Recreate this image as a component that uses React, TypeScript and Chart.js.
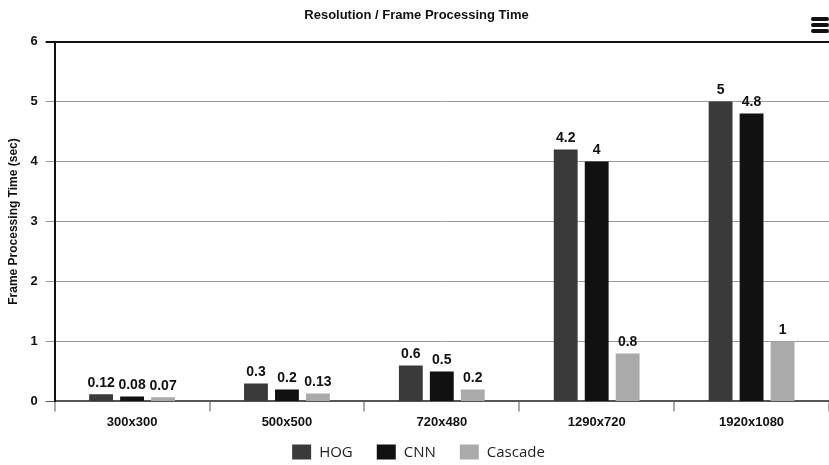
import React, { useEffect, useRef } from "react";
import { Chart, registerables } from "chart.js";

Chart.register(...registerables);

const categories = ["300x300", "500x500", "720x480", "1290x720", "1920x1080"];
const hogValues = [0.12, 0.3, 0.6, 4.2, 5];
const cnnValues = [0.08, 0.2, 0.5, 4, 4.8];
const cascadeValues = [0.07, 0.13, 0.2, 0.8, 1];
const seriesNames = ["HOG", "CNN", "Cascade"];
const seriesColors = ["#3a3a3a", "#111111", "#aaaaaa"];

const NARROW = "'Liberation Sans Narrow', 'Arial Narrow', 'Liberation Sans', Arial, sans-serif";
const LEGEND_FONT = "15px 'Open Sans', sans-serif";

const dataLabels = {
  id: "dataLabels",
  afterDatasetsDraw(chart: any) {
    const ctx = chart.ctx;
    ctx.save();
    ctx.font = `bold 14px ${NARROW}`;
    ctx.fillStyle = "#111";
    ctx.textAlign = "center";
    ctx.textBaseline = "bottom";
    chart.data.datasets.forEach((ds: any, i: number) => {
      const meta = chart.getDatasetMeta(i);
      meta.data.forEach((bar: any, j: number) => {
        ctx.fillText(String(ds.data[j]), bar.x, bar.y - 4);
      });
    });
    ctx.restore();
  },
};

const bottomLegend = {
  id: "bottomLegend",
  afterDraw(chart: any) {
    const ctx = chart.ctx;
    const ds = chart.data.datasets;
    const boxW = 19;
    const boxH = 15;
    const gapBoxText = 8;
    const gapItems = 24;
    ctx.save();
    ctx.font = LEGEND_FONT;
    const widths = ds.map((d: any) => boxW + gapBoxText + ctx.measureText(d.label).width);
    const total = widths.reduce((a: number, b: number) => a + b, 0) + gapItems * (ds.length - 1);
    let x = chart.width / 2 - total / 2 + 4;
    const y = 452;
    ds.forEach((d: any, i: number) => {
      ctx.fillStyle = d.backgroundColor;
      ctx.fillRect(x, y - boxH / 2, boxW, boxH);
      ctx.fillStyle = "#222";
      ctx.textAlign = "left";
      ctx.textBaseline = "middle";
      ctx.fillText(d.label, x + boxW + gapBoxText, y + 1);
      x += widths[i] + gapItems;
    });
    ctx.restore();
  },
};

export default function App() {
  const ref = useRef<HTMLCanvasElement | null>(null);
  useEffect(() => {
    document.body.style.margin = "0";
    const chart = new Chart(ref.current!, {
      type: "bar",
      data: {
        labels: categories,
        datasets: [hogValues, cnnValues, cascadeValues].map((d, i) => ({
          label: seriesNames[i],
          data: d,
          backgroundColor: seriesColors[i],
          borderWidth: 0,
          categoryPercentage: 0.6,
          barPercentage: 0.77,
        })),
      },
      options: {
        animation: false,
        responsive: false,
        layout: { padding: { top: 4, right: 0, left: 4, bottom: 32 } },
        plugins: {
          title: {
            display: true,
            text: "Resolution / Frame Processing Time",
            color: "#111",
            font: { family: NARROW, size: 13, weight: "bold" },
            padding: { top: 4, bottom: 18 },
          },
          legend: { display: false },
          tooltip: { enabled: false },
        },
        scales: {
          x: {
            grid: {
              drawOnChartArea: false,
              drawTicks: true,
              tickLength: 10,
              color: "#aaa",
              lineWidth: 2,
            },
            border: { color: "#555", width: 2 },
            ticks: {
              color: "#111",
              font: { family: NARROW, size: 13, weight: "bold" },
              padding: 3,
            },
          },
          y: {
            min: 0,
            max: 6,
            ticks: {
              stepSize: 1,
              color: "#111",
              font: { family: NARROW, size: 13, weight: "bold" },
              padding: 8,
            },
            grid: {
              tickLength: 9,
              color: (c: any) => (c.tick && c.tick.value === 6 ? "#111" : c.tick && c.tick.value === 0 ? "#555" : "#999"),
              lineWidth: (c: any) => (c.tick && c.tick.value === 6 ? 2 : 1),
            },
            border: { color: "#111", width: 2 },
            title: {
              display: true,
              text: "Frame Processing Time (sec)",
              color: "#111",
              font: { family: NARROW, size: 12, weight: "bold" },
              padding: 2,
            },
          },
        },
      },
      plugins: [dataLabels, bottomLegend],
    } as any);
    return () => chart.destroy();
  }, []);
  return (
    <div style={{ position: "relative", width: 829, height: 465, background: "#fff" }}>
      <canvas ref={ref} width={829} height={465} />
      <div style={{ position: "absolute", right: 0, top: 17 }}>
        {[0, 1, 2].map((i) => (
          <div key={i} style={{ width: 18, height: 4, background: "#111", borderRadius: 2, marginBottom: 2 }} />
        ))}
      </div>
    </div>
  );
}
